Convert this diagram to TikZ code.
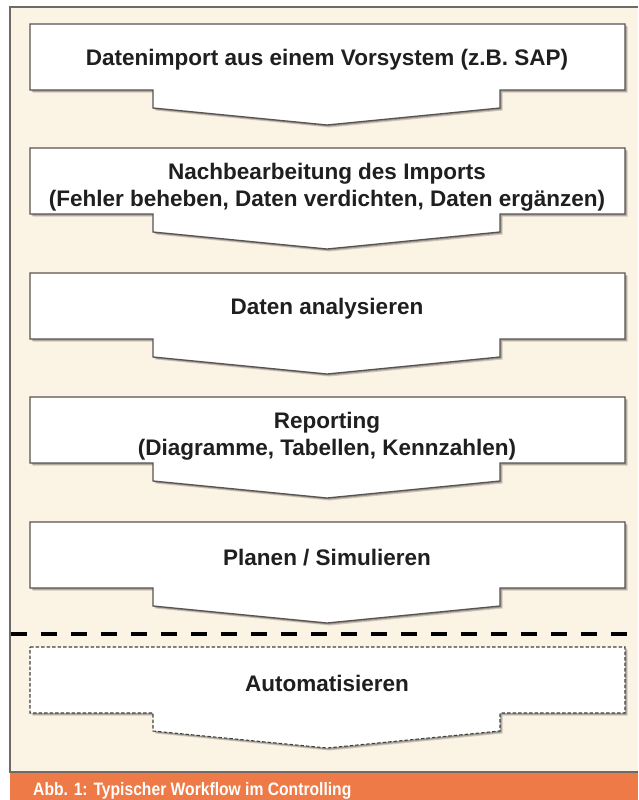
\documentclass[tikz,border=0pt]{standalone}
\usepackage{fontspec}
\setmainfont{Liberation Sans}
\definecolor{cream}{HTML}{FBF3E4}
\definecolor{framegray}{HTML}{6E6A66}
\definecolor{boxline}{HTML}{5A5252}
\definecolor{capbar}{HTML}{EE7A47}
\newcommand\flowshape[1]{(30,#1) -- (625,#1) -- (625,#1+66) -- (500,#1+66) -- (500,#1+84) -- (327,#1+101) -- (153,#1+84) -- (153,#1+66) -- (30,#1+66) -- cycle}
\newcommand\drawflow[2]{%
  \begin{scope}[shift={(2.5,2.5)}]\fill[black,opacity=0.18] \flowshape{#1};\end{scope}
  \begin{scope}[shift={(1.5,1.5)}]\fill[black,opacity=0.22] \flowshape{#1};\end{scope}
  \filldraw[#2] \flowshape{#1};}
\tikzset{
  solidbox/.style={fill=white,draw=boxline,line width=1.3pt},
  dashbox/.style={fill=white,draw=black!75,line width=1.1pt,dash pattern=on 3.5pt off 2pt},
  steptext/.style={font=\bfseries\fontsize{22.5}{26.5}\selectfont,text=black!88,align=center,anchor=center,inner sep=0pt},
}
\begin{document}
\begin{tikzpicture}[x=1pt,y=-1pt]
\useasboundingbox (0,0) rectangle (638,800);
\fill[white] (0,0) rectangle (638,800);
\fill[cream] (10,7) rectangle (638,772);
\draw[framegray,line width=1.3pt] (638,7) -- (10,7) -- (10,772) -- (638,772);
\fill[capbar] (10,772.6) rectangle (638,800);
\drawflow{24}{solidbox}
\drawflow{148}{solidbox}
\drawflow{273}{solidbox}
\drawflow{397}{solidbox}
\drawflow{522}{solidbox}
\drawflow{647}{dashbox}
\node[steptext] (s1) at (327,60) {Datenimport aus einem Vorsystem (z.B. SAP)};
\node[steptext] (s2) at (327,187) {Nachbearbeitung des Imports\\(Fehler beheben, Daten verdichten, Daten ergänzen)};
\node[steptext] (s3) at (327,309) {Daten analysieren};
\node[steptext] (s4) at (327,436) {Reporting\\(Diagramme, Tabellen, Kennzahlen)};
\node[steptext] (s5) at (327,558) {Planen / Simulieren};
\node[steptext] (s6) at (327,683) {Automatisieren};
\draw[black,line width=4pt,dash pattern=on 16pt off 14pt] (11,634) -- (630,634);
\node[anchor=base west,inner sep=0pt,text=white,font=\bfseries\fontsize{18}{20}\selectfont] (cap) at (33,795.5) {\scalebox{0.87}[1]{Abb. 1: Typischer Workflow im Controlling}};
\end{tikzpicture}
\end{document}
